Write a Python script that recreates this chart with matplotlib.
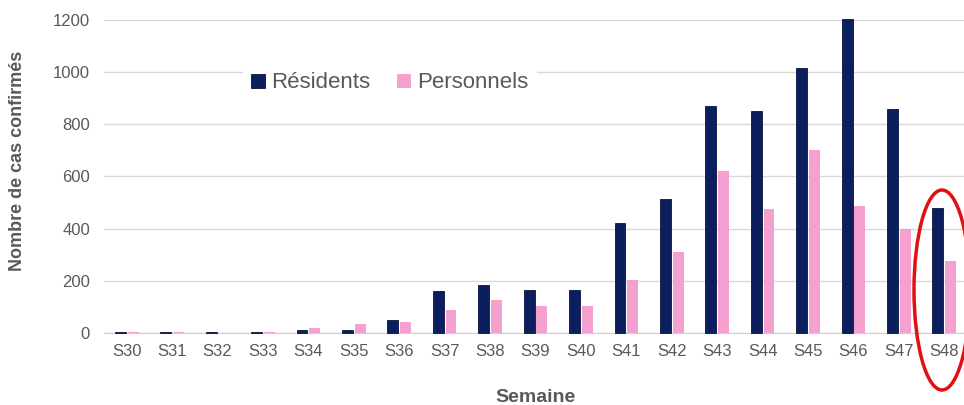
import matplotlib
matplotlib.use("Agg")
import matplotlib.pyplot as plt
import numpy as np
from matplotlib.patches import Ellipse

weeks = ["S30", "S31", "S32", "S33", "S34", "S35", "S36", "S37", "S38", "S39",
         "S40", "S41", "S42", "S43", "S44", "S45", "S46", "S47", "S48"]
residents = [5, 5, 5, 5, 12, 12, 50, 160, 185, 165, 165, 420, 515, 870, 850, 1015, 1205, 860, 480]
personnels = [5, 5, 0, 5, 20, 35, 42, 90, 125, 105, 105, 205, 310, 620, 475, 700, 485, 400, 275]
yticks = [0, 200, 400, 600, 800, 1000, 1200]

plt.rcParams['font.family'] = ['Liberation Sans', 'DejaVu Sans']
W, H = 964, 405
fig = plt.figure(figsize=(W / 100, H / 100), dpi=100)
ax = fig.add_axes([104 / W, (H - 333) / H, 863 / W, 313 / H])

x = np.arange(len(weeks))
bw = 0.24
off = 0.14
ax.bar(x - off, residents, bw, color="#0b1f5e", edgecolor="#06153f", linewidth=0.6,
       label="Résidents", zorder=3, clip_on=False)
ax.bar(x + off, personnels, bw, color="#f4a0d0", label="Personnels", zorder=3)

ax.set_xlim(-0.5, len(weeks) - 0.5)
ax.set_ylim(0, 1200)
ax.set_yticks(yticks)
ax.set_xticks(x)
ax.set_xticklabels(weeks)
ax.yaxis.grid(True, color="#d9d9d9", linewidth=1.0, zorder=0)
ax.set_axisbelow(True)
for s in ["top", "right", "left"]:
    ax.spines[s].set_visible(False)
ax.spines["bottom"].set_color("#d0d0d0")
ax.tick_params(axis="both", length=0, labelsize=12, colors="#595959")
ax.tick_params(axis="x", pad=8)
ax.tick_params(axis="y", pad=10)

ax.set_ylabel("Nombre de cas confirmés", fontsize=13, fontweight="bold", color="#595959")
ax.yaxis.set_label_coords((18 - 104) / 863, 0.55)
ax.set_xlabel("Semaine", fontsize=14, fontweight="bold", color="#595959")
ax.xaxis.set_label_coords((536 - 104) / 863, -(397 - 333) / 313)
ax.xaxis.label.set_verticalalignment("center")
ax.yaxis.label.set_verticalalignment("center")

leg = ax.legend(loc="center", bbox_to_anchor=((390 - 104) / 863, (333 - 83) / 313), ncol=2,
                frameon=True, fontsize=16, handlelength=0.6, handleheight=0.6,
                handletextpad=0.3, columnspacing=1.2, borderpad=0.4)
leg.get_frame().set_facecolor("white")
leg.get_frame().set_edgecolor("none")
leg.get_frame().set_alpha(1)
for t in leg.get_texts():
    t.set_color("#595959")

# red ellipse annotation (figure pixel coords)
ell = Ellipse(((942) / W, (H - 290) / H), 56 / W, 200 / H, transform=fig.transFigure,
              fill=False, edgecolor="#e01010", linewidth=2.5)
fig.patches.append(ell)

fig.savefig("out.png", dpi=100)
